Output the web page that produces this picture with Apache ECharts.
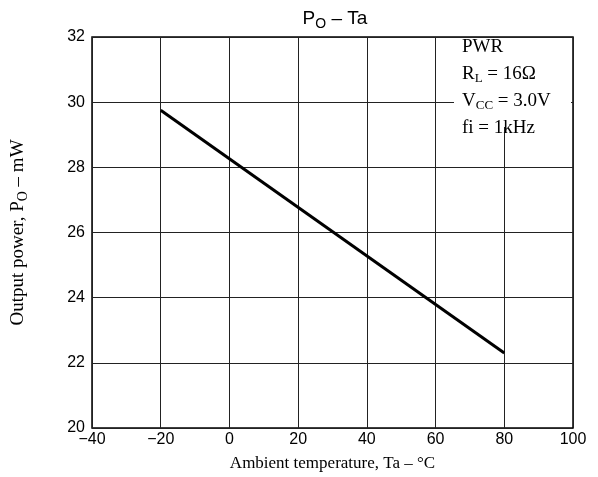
<!DOCTYPE html>
<html><head><meta charset="utf-8">
<script src="https://cdn.jsdelivr.net/npm/echarts@6/dist/echarts.min.js"></script>
<style>html,body{margin:0;padding:0;background:#fff}#c{width:598px;height:477px}</style>
</head><body><div id="c"></div>
<script>
const temps = [-20, 80];
const power = [29.75, 22.3];
const xTicks = [-40, -20, 0, 20, 40, 60, 80, 100];
const yTicks = [20, 22, 24, 26, 28, 30, 32];

const chart = echarts.init(document.getElementById('c'));
const serif = '"Liberation Serif", "DejaVu Serif", serif';
const sans = '"Liberation Sans", Arial, sans-serif';
chart.setOption({
  animation: false,
  backgroundColor: '#fff',
  grid: { left: 92, right: 25, top: 37, bottom: 48, show: true, borderColor: '#000', borderWidth: 1.5 },
  title: {
    text: '{m|P}{s|O}{m| – Ta}', left: 330, textAlign: 'center', top: 2,
    textStyle: { fontWeight: 'normal', rich: {
      m: { fontFamily: sans, fontSize: 19, fontWeight: 'normal', color: '#000' },
      s: { fontFamily: sans, fontSize: 14, fontWeight: 'normal', color: '#000', padding: [10, 0, 0, 0] }
    } }
  },
  xAxis: {
    type: 'value', min: -40, max: 100, interval: 20,
    axisLine: { show: false }, axisTick: { show: false },
    splitLine: { show: true, lineStyle: { color: '#222', width: 1 } },
    axisLabel: { color: '#000', fontFamily: sans, fontSize: 16, margin: 4,
      formatter: v => xTicks.includes(v) ? String(v).replace('-', '−') : '' },
    name: 'Ambient temperature, Ta – °C', nameLocation: 'middle', nameGap: 27,
    nameTextStyle: { fontFamily: serif, fontSize: 17, color: '#000' }
  },
  yAxis: {
    type: 'value', min: 20, max: 32, interval: 2,
    axisLine: { show: false }, axisTick: { show: false },
    splitLine: { show: true, lineStyle: { color: '#222', width: 1 } },
    axisLabel: { color: '#000', fontFamily: sans, fontSize: 16, margin: 7,
      formatter: v => yTicks.includes(v) ? String(v) : '' },
    name: '{m|Output power, P}{s|O}{m| – mW}', nameLocation: 'middle', nameGap: 62,
    nameTextStyle: { rich: {
      m: { fontFamily: serif, fontSize: 19, color: '#000' },
      s: { fontFamily: serif, fontSize: 14, color: '#000', padding: [9, 0, 0, 0] }
    } }
  },
  graphic: [
    { type: 'rect', shape: { x: 454, y: 38, width: 117, height: 89 }, style: { fill: '#fff' }, z: 10 },
    { type: 'text', left: 462, top: 38, z: 11, style: {
      text: '{m|PWR}\n{m|R}{s|L}{m| = 16Ω}\n{m|V}{s|CC}{m| = 3.0V}\n{m|fi = 1kHz}',
      rich: {
        m: { fontFamily: serif, fontSize: 19, lineHeight: 27, fill: '#000' },
        s: { fontFamily: serif, fontSize: 13, lineHeight: 27, fill: '#000', padding: [9, 0, 0, 0] }
      }
    } }
  ],
  series: [{
    type: 'line', data: temps.map((t, i) => [t, power[i]]), symbol: 'none',
    lineStyle: { color: '#000', width: 3 }, z: 5
  }]
});
</script></body></html>
